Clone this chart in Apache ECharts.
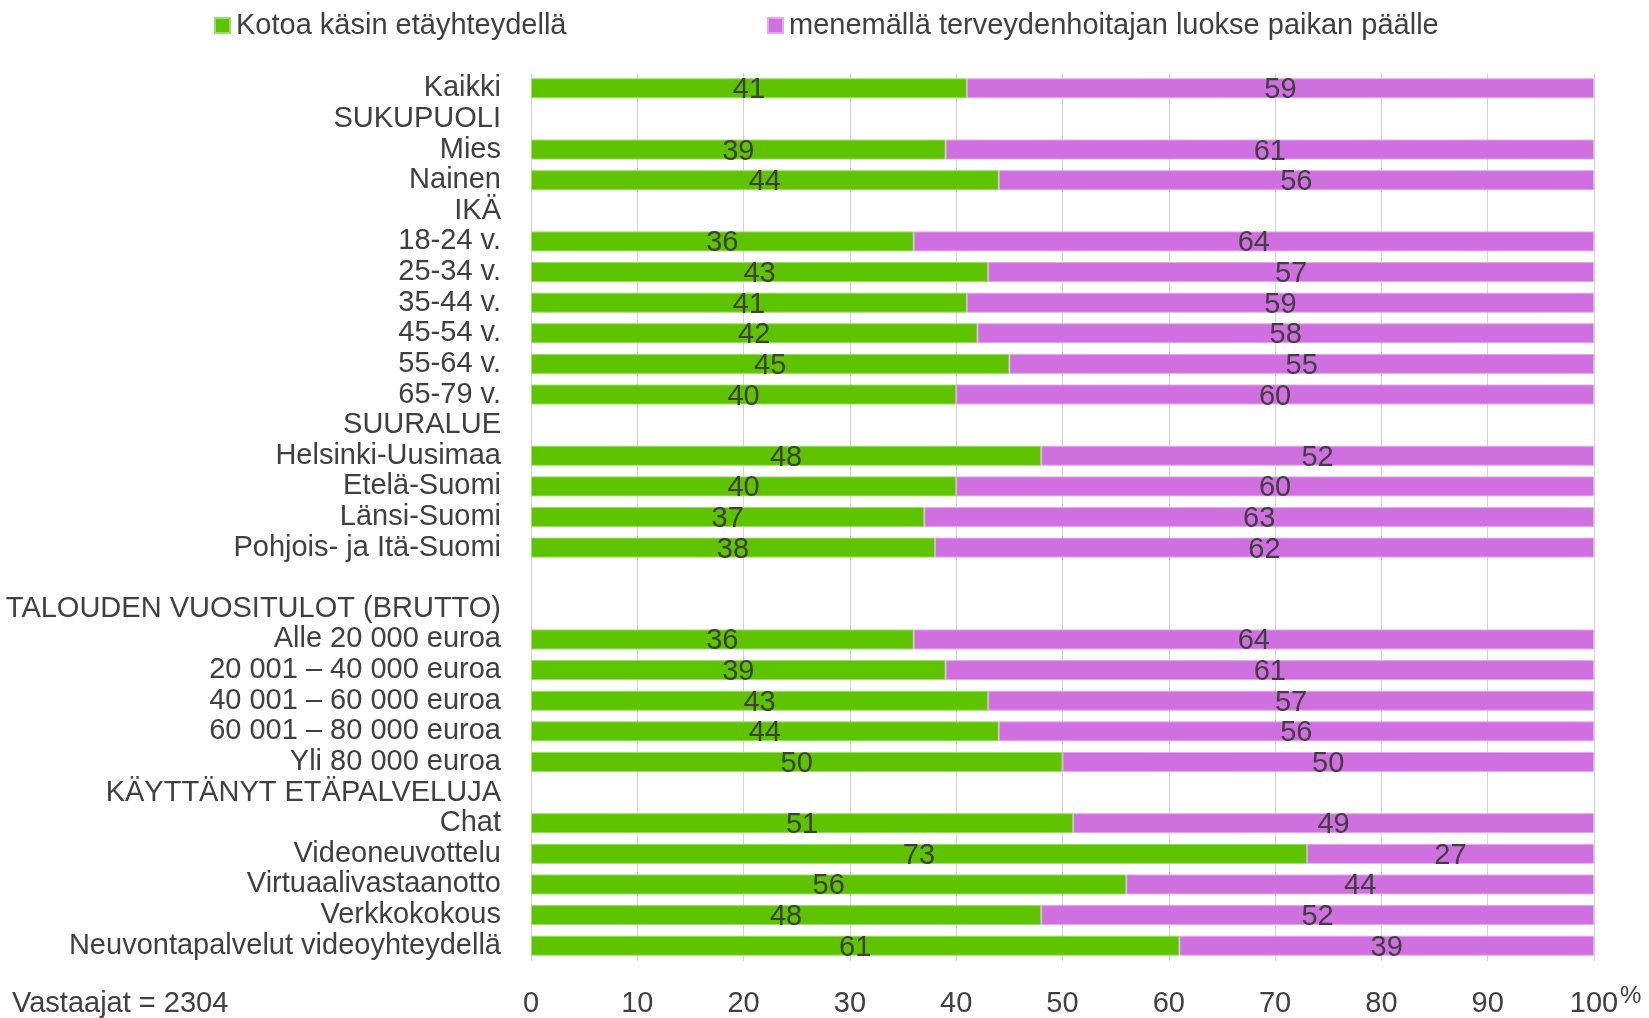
<!DOCTYPE html>
<html>
<head>
<meta charset="utf-8">
<script src="https://cdn.jsdelivr.net/npm/echarts@6/dist/echarts.min.js"></script>
<style>
html,body{margin:0;padding:0;background:#fff;}
#chart{width:1649px;height:1018px;}
</style>
</head>
<body>
<div id="chart"></div>
<script>
const categories = [
  'Kaikki','SUKUPUOLI','Mies','Nainen','IKÄ','18-24 v.','25-34 v.','35-44 v.','45-54 v.','55-64 v.','65-79 v.',
  'SUURALUE','Helsinki-Uusimaa','Etelä-Suomi','Länsi-Suomi','Pohjois- ja Itä-Suomi','',
  'TALOUDEN VUOSITULOT (BRUTTO)','Alle 20 000 euroa','20 001 – 40 000 euroa','40 001 – 60 000 euroa','60 001 – 80 000 euroa','Yli 80 000 euroa',
  'KÄYTTÄNYT ETÄPALVELUJA','Chat','Videoneuvottelu','Virtuaalivastaanotto','Verkkokokous','Neuvontapalvelut videoyhteydellä'
];
const seriesNames = ['Kotoa käsin etäyhteydellä','menemällä terveydenhoitajan luokse paikan päälle'];
const kotoa = [41,null,39,44,null,36,43,41,42,45,40,null,48,40,37,38,null,null,36,39,43,44,50,null,51,73,56,48,61];
const paikan = [59,null,61,56,null,64,57,59,58,55,60,null,52,60,63,62,null,null,64,61,57,56,50,null,49,27,44,52,39];
const xTicks = [0,10,20,30,40,50,60,70,80,90,100];
const respondents = 'Vastaajat = 2304';

const FONT = '"Liberation Sans", Arial, sans-serif';
const TXT = '#404040';
const chart = echarts.init(document.getElementById('chart'));
const labelCfg = {
  show: true, position: 'inside', color: TXT, fontSize: 29, fontFamily: FONT,
  offset: [0, 2],
  formatter: p => (p.value === null || p.value === undefined) ? '' : String(p.value)
};
chart.setOption({
  animation: false,
  textStyle: { fontFamily: FONT },
  legend: [
    { data: [seriesNames[0]], left: 209, top: 6, itemWidth: 15, itemHeight: 15, icon: 'rect',
      textStyle: { color: TXT, fontSize: 29, fontFamily: FONT, padding: [0,0,0,1] } },
    { data: [seriesNames[1]], left: 762, top: 6, itemWidth: 15, itemHeight: 15, icon: 'rect',
      textStyle: { color: TXT, fontSize: 29, fontFamily: FONT, padding: [0,0,0,1] } }
  ],
  grid: { left: 531, right: 55, top: 73, bottom: 57, containLabel: false },
  xAxis: {
    type: 'value', min: 0, max: 100, interval: 10,
    axisLine: { show: false }, axisTick: { show: false },
    splitLine: { show: true, lineStyle: { color: '#d4d4d4', width: 1 } },
    axisLabel: { color: TXT, fontSize: 29, fontFamily: FONT, margin: 28,
      formatter: v => xTicks.includes(v) ? String(v) : '' }
  },
  yAxis: {
    type: 'category', data: categories, inverse: true,
    axisLine: { show: false }, axisTick: { show: false },
    axisLabel: { color: TXT, fontSize: 29, fontFamily: FONT, margin: 30, interval: 0, padding: [4,0,0,0] }
  },
  series: [
    { name: seriesNames[0], type: 'bar', stack: 'a', data: kotoa, barWidth: 20,
      itemStyle: { color: '#5ec400', borderColor: '#9ade66', borderWidth: 1 }, label: labelCfg },
    { name: seriesNames[1], type: 'bar', stack: 'a', data: paikan, barWidth: 20,
      itemStyle: { color: '#d070e0', borderColor: '#e4a8ee', borderWidth: 1 }, label: labelCfg }
  ],
  graphic: [
    { type: 'text', left: 12, top: 989, style: { text: respondents, fill: TXT, font: '29px ' + FONT } },
    { type: 'text', left: 1620, top: 984, style: { text: '%', fill: TXT, font: '24px ' + FONT } }
  ]
});
</script>
</body>
</html>
